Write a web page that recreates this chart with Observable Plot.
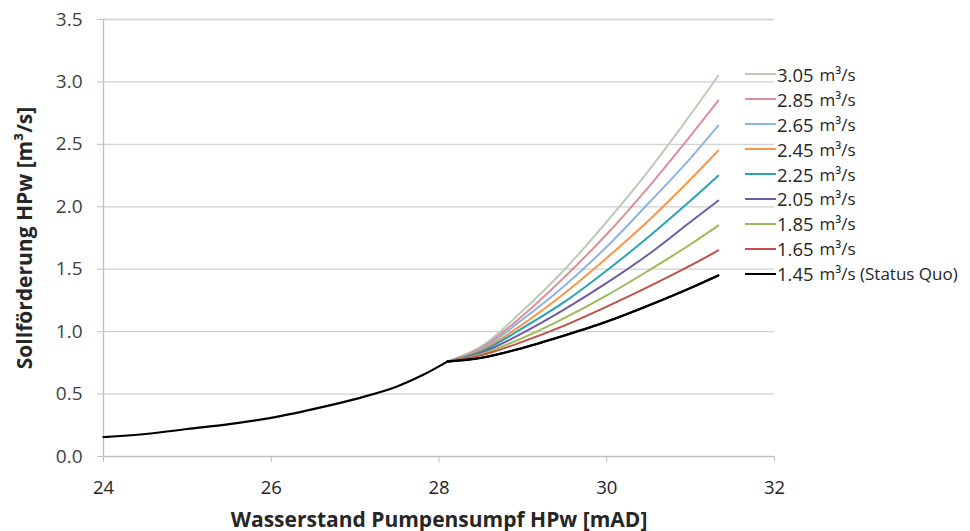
<!DOCTYPE html>
<html><head><meta charset="utf-8">
<script src="https://cdn.jsdelivr.net/npm/d3@7"></script>
<script src="https://cdn.jsdelivr.net/npm/@observablehq/plot@0.6"></script>
<style>
body{margin:0;background:#fff;}
#wrap{position:relative;width:970px;height:531px;font-family:"Open Sans",Lato,sans-serif;}
#legend{position:absolute;left:745px;top:62px;}
.row{height:24.9px;display:flex;align-items:center;white-space:nowrap;color:#262626;}
.sw{width:31px;height:2px;margin-right:1px;}
.num{font-size:18.5px;}
.unit{font-size:17px;margin-left:6px;}
</style>
</head><body><div id="wrap"><div id="legend"></div></div>
<script>
// Shared lower curve (status quo up to the branching point)
const baseX = [24.0, 24.5, 25.0, 25.5, 26.0, 26.5, 27.0, 27.5, 27.8, 28.1];
const baseY = [0.155, 0.18, 0.22, 0.26, 0.31, 0.38, 0.46, 0.56, 0.65, 0.76];

// Branches after the branching point
const branchX = [28.1, 28.5, 29.0, 29.5, 30.0, 30.5, 31.0, 31.33];
const seriesNames = ["3.05", "2.85", "2.65", "2.45", "2.25", "2.05", "1.85", "1.65", "1.45"];
const seriesUnits = ["m³/s", "m³/s", "m³/s", "m³/s", "m³/s", "m³/s", "m³/s", "m³/s", "m³/s (Status Quo)"];
const seriesColors = ["#bccbb6", "#dc8f98", "#8db3e2", "#f79646", "#2aa3b0", "#6f5aa6", "#9bbb59", "#c0504d", "#000000"];
const v305 = [0.76, 0.88, 1.17, 1.50, 1.88, 2.29, 2.74, 3.05];
const v285 = [0.76, 0.87, 1.13, 1.44, 1.78, 2.16, 2.57, 2.85];
const v265 = [0.76, 0.86, 1.10, 1.37, 1.68, 2.03, 2.39, 2.65];
const v245 = [0.76, 0.85, 1.06, 1.31, 1.59, 1.89, 2.22, 2.45];
const v225 = [0.76, 0.84, 1.03, 1.24, 1.49, 1.76, 2.05, 2.25];
const v205 = [0.76, 0.83, 0.99, 1.18, 1.39, 1.62, 1.88, 2.05];
const v185 = [0.76, 0.82, 0.95, 1.11, 1.29, 1.49, 1.70, 1.85];
const v165 = [0.76, 0.81, 0.92, 1.05, 1.20, 1.36, 1.53, 1.65];
const v145 = [0.76, 0.79, 0.87, 0.97, 1.08, 1.21, 1.35, 1.45];
const seriesValues = [v305, v285, v265, v245, v225, v205, v185, v165, v145];

const xTicks = [24, 26, 28, 30, 32];
const yTicks = [0, 0.5, 1.0, 1.5, 2.0, 2.5, 3.0, 3.5];

const rows = [];
seriesValues.forEach((vals, i) => {
  vals.forEach((v, j) => rows.push({s: seriesNames[i], x: branchX[j], y: v}));
});
const base = baseX.map((x, i) => ({x, y: baseY[i]}));

const font = '"Open Sans", Lato, sans-serif';
const chart = Plot.plot({
  width: 970, height: 531,
  marginLeft: 103, marginRight: 196, marginTop: 19, marginBottom: 75,
  style: {fontFamily: font, background: "#fff", overflow: "visible"},
  x: {domain: [24, 32], ticks: xTicks},
  y: {domain: [0, 3.5], ticks: yTicks},
  color: {domain: seriesNames, range: seriesColors},
  marks: [
    Plot.ruleY(yTicks.filter(d => d > 0), {stroke: "#d0d0d0", strokeWidth: 1.3}),
    Plot.ruleY([0], {stroke: "#c0c0c0", strokeWidth: 1.3}),
    Plot.ruleX([24], {stroke: "#c0c0c0", strokeWidth: 1.3}),
    Plot.axisX({ticks: xTicks, tickSize: 6, tickPadding: 18, stroke: "#c0c0c0", fill: "#262626", fontSize: 18.5, label: null}),
    Plot.axisY({ticks: yTicks, tickSize: 6, tickPadding: 15, stroke: "#c0c0c0", fill: "#404040", fontSize: 19, label: null, tickFormat: d3.format(".1f")}),
    Plot.text(["Wasserstand Pumpensumpf HPw [mAD]"], {frameAnchor: "bottom", dy: 70, fontSize: 21, fontWeight: "bold", fill: "#262626"}),
    Plot.text(["Sollförderung HPw [m³/s]"], {frameAnchor: "left", textAnchor: "middle", dx: -78, rotate: -90, fontSize: 21, fontWeight: "bold", fill: "#262626"}),
    Plot.line(rows, {x: "x", y: "y", z: "s", stroke: "s", strokeWidth: 2, curve: "monotone-x"}),
    Plot.line(base, {x: "x", y: "y", stroke: "#000", strokeWidth: 2.2, curve: "monotone-x"}),
    Plot.line(rows.filter(r => r.s === "1.45"), {x: "x", y: "y", stroke: "#000", strokeWidth: 2.2, curve: "monotone-x"})
  ]
});
const wrap = document.getElementById("wrap");
wrap.insertBefore(chart, wrap.firstChild);

const legend = document.getElementById("legend");
seriesNames.forEach((n, i) => {
  const r = document.createElement("div");
  r.className = "row";
  r.innerHTML = `<span class="sw" style="background:${seriesColors[i]}"></span><span class="num">${n}</span><span class="unit">${seriesUnits[i]}</span>`;
  legend.appendChild(r);
});
</script>
</body></html>
